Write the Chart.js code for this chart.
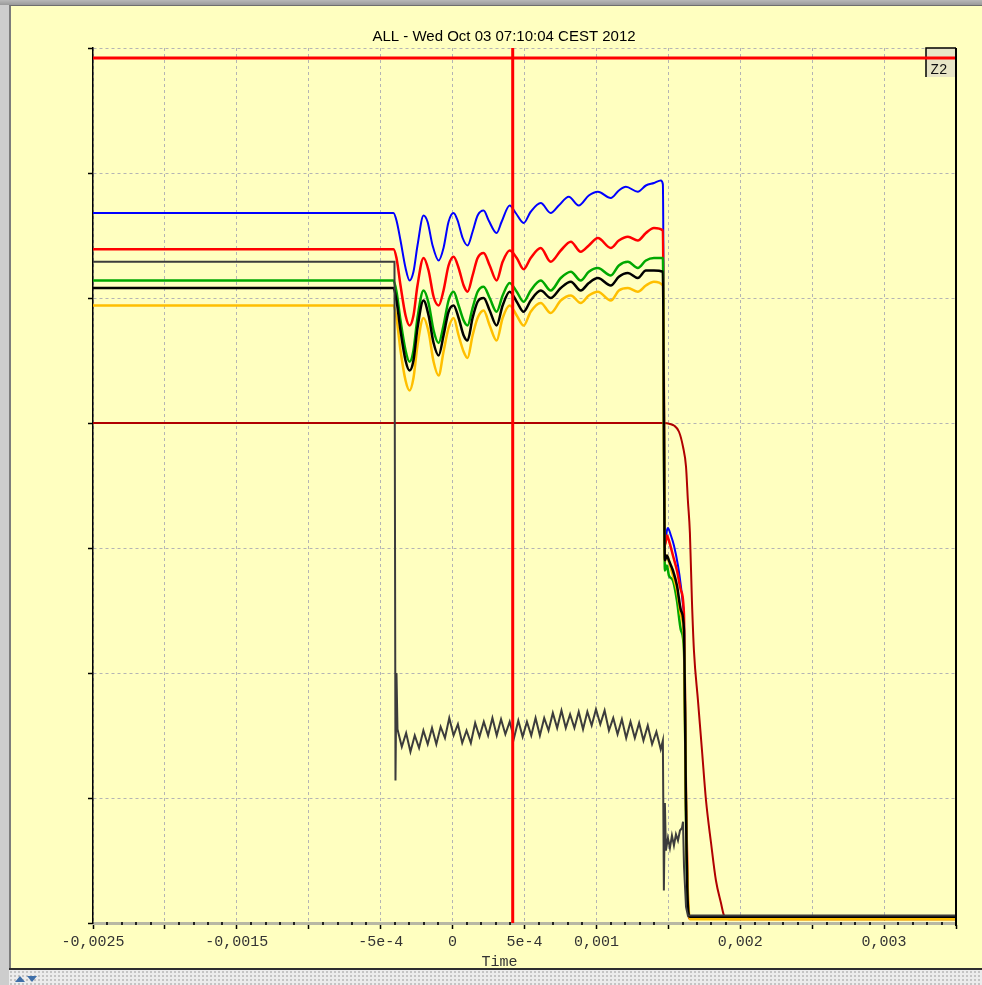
<!DOCTYPE html>
<html lang="en">
<head>
    <meta charset="UTF-8">
    <title>ALL - Wed Oct 03 07:10:04 CEST 2012</title>
    <script src="https://cdn.jsdelivr.net/npm/chart.js@4.4.1/dist/chart.umd.min.js"></script>
    <style>
        body { margin: 0; width: 982px; height: 985px; position: relative; overflow: hidden; background: #cdcdcd; }
        .topband { position: absolute; left: 0; top: 0; width: 982px; height: 5px; background: linear-gradient(#b8b8b8, #9a9a9a); }
        .panel { position: absolute; left: 9px; top: 5px; width: 973px; height: 963px; background: #ffffc0;
                 border-left: 2px solid #7c7c7c; border-top: 1px solid #6e6e6e; box-sizing: border-box; }
        .statusbar { position: absolute; left: 9px; top: 968px; width: 973px; height: 17px; box-sizing: border-box;
                     border-top: 2px solid #2e2e2e; background-color: #ececec;
                     background-image: radial-gradient(#c4c4c4 0.8px, transparent 1px); background-size: 4px 4px; }
        .up, .down { position: absolute; top: 6px; width: 0; height: 0; border-left: 5px solid transparent; border-right: 5px solid transparent; }
        .up { left: 6px; border-bottom: 6px solid #3f6fa8; }
        .down { left: 18px; border-top: 6px solid #3f6fa8; }
        #chart { position: absolute; left: 0; top: 0; }
    </style>
</head>
<body>
    <div class="topband"></div>
    <div class="panel"></div>
    <div class="statusbar"><span class="up"></span><span class="down"></span></div>
    <canvas id="chart" width="982" height="985"></canvas>

    <script>
        // time in microseconds, amplitude in arbitrary units (the y axis has no labels)
        const xTickLabels = ['-0,0025', '', '-0,0015', '', '-5e-4', '0', '5e-4', '0,001', '', '0,002', '', '0,003', ''];

        // cursors
        const cursorT = [418, 418];
        const cursorV = [0, 70];
        const levelT = [-2500, 3500];
        const levelV = [69.2, 69.2];

        // shared sample times for the oscillating traces
        const oscT = [-2500, -411, -390, -362, -327, -299, -272, -244, -202, -167, -132, -97, -63, -28, 7, 42, 77, 104,
            139, 174, 216, 258, 306, 348, 397, 446, 494, 543, 613, 682, 752, 822, 891, 947, 1010, 1100, 1156, 1219,
            1288, 1344, 1400, 1462];
        const edgeT = [1476, 1490, 1504, 1532, 1560, 1588, 1609, 1616, 1623, 1636, 1650, 3500];

        const blueT = [-2500, -411, -390, -362, -327, -299, -272, -244, -202, -174, -139, -97, -63, -28, 7, 35, 70,
            104, 139, 174, 216, 251, 306, 341, 397, 439, 494, 543, 613, 682, 738, 808, 877, 947, 1010, 1100, 1156,
            1205, 1288, 1344, 1400, 1448, 1462, 1476, 1490, 1497, 1518, 1539, 1567, 1588, 1602, 1609, 1616, 1623,
            1630, 1643, 3500];
        const blueV = [56.8, 56.8, 56.2, 54.6, 52.4, 51.4, 52.1, 54.2, 56.6, 56.1, 54.2, 53.0, 54.0, 56.1, 56.8, 56.2,
            54.8, 54.2, 55.3, 56.6, 57.0, 56.2, 55.2, 56.1, 57.4, 56.8, 56.0, 56.9, 57.6, 56.8, 57.4, 58.1, 57.4, 58.2,
            58.5, 58.0, 58.6, 58.9, 58.5, 59.0, 59.2, 59.4, 59.1, 30.2, 31.4, 31.6, 31.0, 30.2, 28.6, 26.9, 25.4, 24.2,
            17.8, 9.8, 3.4, 0.4, 0.4];

        const redV = [53.9, 53.9, 53.2, 51.0, 48.6, 47.8, 48.6, 51.0, 53.2, 52.2, 50.1, 49.4, 50.6, 52.6, 53.3, 52.4,
            51.0, 50.5, 51.8, 53.2, 53.6, 52.6, 51.4, 52.9, 53.8, 53.2, 52.3, 53.2, 54.0, 52.9, 53.8, 54.5, 53.7, 54.2,
            54.8, 54.0, 54.6, 54.9, 54.6, 55.2, 55.6, 55.4,
            30.2, 31.0, 30.6, 29.4, 28.2, 26.6, 24.6, 17.8, 9.8, 1.8, 0.35, 0.35];

        const greenV = [51.4, 51.4, 50.5, 48.2, 45.8, 44.9, 45.8, 48.4, 50.6, 49.6, 47.4, 46.4, 47.8, 49.8, 50.5, 49.4,
            48.2, 47.8, 49.2, 50.5, 50.9, 50.0, 48.9, 50.2, 51.2, 50.5, 49.7, 50.6, 51.4, 50.6, 51.6, 52.1, 51.4, 52.1,
            52.4, 51.8, 52.6, 52.9, 52.4, 53.0, 53.2, 53.2,
            28.2, 28.6, 27.8, 27.4, 25.8, 23.4, 21.8, 16.2, 8.6, 1.4, 0.45, 0.45];

        const blackV = [50.8, 50.8, 49.8, 47.4, 45.0, 44.2, 45.0, 47.6, 49.8, 48.6, 46.4, 45.4, 47.0, 48.9, 49.4, 48.4,
            47.0, 46.6, 48.4, 49.7, 50.0, 49.0, 47.8, 49.4, 50.5, 49.7, 48.9, 49.8, 50.6, 50.0, 50.8, 51.3, 50.6, 51.2,
            51.6, 51.0, 51.7, 52.0, 51.6, 52.2, 52.2, 52.1,
            29.0, 29.4, 29.0, 28.2, 27.0, 25.0, 23.4, 17.0, 9.0, 1.4, 0.5, 0.5];

        const yellowV = [49.4, 49.4, 48.4, 45.8, 43.4, 42.6, 43.6, 46.2, 48.4, 47.3, 44.9, 43.8, 45.7, 47.6, 48.4, 47.0,
            45.7, 45.2, 47.0, 48.4, 49.0, 47.8, 46.6, 48.4, 49.4, 48.6, 47.8, 48.9, 49.6, 48.8, 49.8, 50.2, 49.6, 50.2,
            50.5, 49.8, 50.6, 50.8, 50.5, 51.0, 51.3, 51.0,
            29.0, 29.4, 28.9, 27.8, 26.6, 24.6, 22.6, 16.2, 9.0, 2.5, 0.3, 0.3];

        const darkRedT = [-2500, 1469, 1518, 1539, 1574, 1602, 1623, 1636, 1650, 1664, 1678, 1706, 1734, 1762, 1797,
            1831, 1866, 1887, 1922, 3500];
        const darkRedV = [40.0, 40.0, 39.9, 39.8, 39.3, 38.1, 36.5, 33.8, 31.2, 25.8, 21.8, 17.8, 13.8, 9.8, 6.4, 3.4,
            1.6, 0.6, 0.3, 0.3];

        const greyT = [-2500, -411, -404, -397, -390,
            -383, -353, -323, -293, -263, -233, -203, -173, -143, -113, -83, -53, -23, 7, 37, 67, 97, 127, 157, 187,
            217, 247, 277, 307, 337, 367, 397, 427, 457, 487, 517, 547, 577, 607, 637, 667, 697, 727, 757, 787, 817,
            847, 877, 907, 937, 967, 997, 1027, 1057, 1087, 1117, 1147, 1177, 1207, 1237, 1267, 1297, 1327, 1357,
            1387, 1417, 1447,
            1462, 1469, 1476, 1483, 1497, 1511, 1525, 1539, 1553, 1567, 1581, 1595, 1602, 1609, 1623, 1636, 3500];
        const greyV = [52.9, 52.9, 52.9, 11.4, 20.0,
            15.5, 14.1, 15.2, 13.7, 15.0, 14.0, 15.4, 14.3, 15.6, 14.3, 15.7, 14.8, 16.4, 15.0, 15.9, 14.4, 15.4, 14.4,
            16.0, 14.9, 16.1, 15.0, 16.4, 15.0, 16.3, 15.1, 16.1, 14.8, 16.2, 14.9, 16.1, 15.0, 16.4, 15.0, 16.4, 15.4,
            16.8, 15.6, 17.0, 15.6, 16.7, 15.6, 16.9, 15.5, 16.9, 15.8, 17.1, 15.9, 17.0, 15.4, 16.4, 15.1, 16.3, 14.8,
            16.1, 14.8, 16.0, 14.6, 15.8, 14.3, 15.3, 13.9,
            14.6, 2.6, 9.6, 5.8, 6.8, 6.0, 7.0, 6.2, 7.1, 6.6, 7.4, 7.6, 8.1, 4.5, 1.3, 0.6, 0.6];

        function points(T, V) {
            return T.map((t, i) => ({ x: t, y: V[i] }));
        }

        function trace(label, T, V, color, width, smooth) {
            return {
                label: label,
                data: points(T, V),
                borderColor: color,
                borderWidth: width,
                pointRadius: 0,
                fill: false,
                cubicInterpolationMode: smooth ? 'monotone' : 'default',
                tension: 0
            };
        }

        const oscEdgeT = oscT.concat(edgeT);

        // Z2 box, right frame, minor ticks and axis title
        const framePlugin = {
            id: 'frame',
            beforeDatasetsDraw(chart) {
                const { ctx, chartArea: a } = chart;
                ctx.save();
                ctx.fillStyle = '#e8e5c6';
                ctx.fillRect(a.right - 30, a.top, 30, 29);
                ctx.strokeStyle = '#000';
                ctx.lineWidth = 1.5;
                ctx.beginPath();
                ctx.moveTo(a.right - 30, a.top + 29);
                ctx.lineTo(a.right - 30, a.top);
                ctx.lineTo(a.right, a.top);
                ctx.stroke();
                ctx.fillStyle = '#111';
                ctx.font = '14px "Liberation Mono"';
                ctx.textAlign = 'center';
                ctx.textBaseline = 'middle';
                ctx.fillText('Z2', a.right - 17, a.top + 22);
                ctx.restore();
            },
            afterDraw(chart) {
                const { ctx, chartArea: a, scales: { x } } = chart;
                ctx.save();
                ctx.strokeStyle = '#000';
                ctx.lineWidth = 2;
                ctx.beginPath();
                ctx.moveTo(a.right, a.top);
                ctx.lineTo(a.right, a.bottom + 3);
                ctx.stroke();
                ctx.fillStyle = '#222';
                for (let v = x.min; v <= x.max; v += 100) {
                    if (v % 500 === 0) continue;
                    ctx.fillRect(Math.round(x.getPixelForValue(v)) - 1, a.bottom - 1, 2, 3);
                }
                ctx.fillStyle = '#333';
                ctx.font = '15px "Liberation Mono"';
                ctx.textAlign = 'center';
                ctx.textBaseline = 'middle';
                ctx.fillText('Time', (a.left + a.right) / 2 - 25, a.bottom + 39);
                ctx.restore();
            }
        };

        new Chart(document.getElementById('chart'), {
            type: 'line',
            data: {
                datasets: [
                    trace('cursor', cursorT, cursorV, '#ff0000', 3, false),
                    trace('level', levelT, levelV, '#ff0000', 3, false),
                    trace('grey', greyT, greyV, '#3c3c3c', 2, false),
                    trace('black', oscEdgeT, blackV, '#000000', 2.5, true),
                    trace('yellow', oscEdgeT, yellowV, '#ffbf00', 2.5, true),
                    trace('green', oscEdgeT, greenV, '#00a800', 2.5, true),
                    trace('red', oscEdgeT, redV, '#ff0000', 2.5, true),
                    trace('blue', blueT, blueV, '#0000ff', 2, true),
                    trace('darkred', darkRedT, darkRedV, '#b00000', 2, true)
                ]
            },
            options: {
                responsive: false,
                animation: false,
                layout: { padding: { left: 52, right: 26, top: 0, bottom: 0 } },
                plugins: {
                    legend: { display: false },
                    tooltip: { enabled: false },
                    title: {
                        display: true,
                        text: 'ALL - Wed Oct 03 07:10:04 CEST 2012',
                        color: '#000',
                        font: { family: 'Liberation Sans', size: 15, weight: 'normal' },
                        padding: { top: 28, bottom: 2 }
                    }
                },
                scales: {
                    x: {
                        type: 'linear',
                        min: -2500,
                        max: 3500,
                        afterFit: s => { s.height = 62; },
                        ticks: {
                            stepSize: 500,
                            autoSkip: false,
                            maxRotation: 0,
                            padding: 4,
                            color: '#333',
                            font: { family: 'Liberation Mono', size: 15 },
                            callback: (v, i) => xTickLabels[i]
                        },
                        grid: { color: '#b4b4b4', tickColor: '#000', tickLength: 6, tickWidth: 1.5 },
                        border: { color: '#b8b8a4', width: 3, dash: [3, 3] }
                    },
                    y: {
                        min: 0,
                        max: 70,
                        afterFit: s => { s.width = 41; },
                        ticks: { stepSize: 10, display: false },
                        grid: { color: '#b4b4b4', tickColor: '#000', tickLength: 5, tickWidth: 1.5 },
                        border: { color: '#000', width: 1.5, dash: [3, 3] }
                    }
                }
            },
            plugins: [framePlugin]
        });
    </script>
</body>
</html>
